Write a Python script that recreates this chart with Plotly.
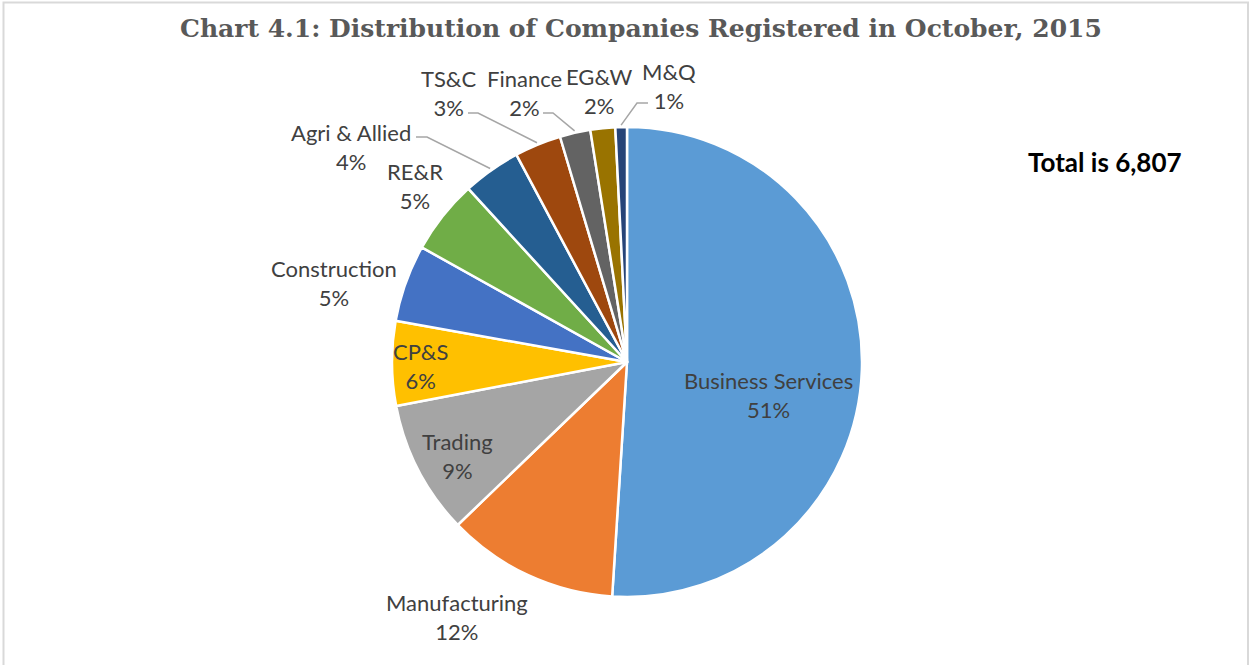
import math
import plotly.graph_objects as go

# ---- data ----
categories = ["Business Services", "Manufacturing", "Trading", "CP&S", "Construction",
              "RE&R", "Agri & Allied", "TS&C", "Finance", "EG&W", "M&Q"]
counts = [3472, 803, 626, 395, 361, 347, 272, 218, 143, 116, 54]
colors = ["#5B9BD5", "#ED7D31", "#A5A5A5", "#FFC000", "#4472C4", "#70AD47",
          "#255E91", "#9E480E", "#636363", "#997300", "#264478"]
total_label = "Total is 6,807"
title_text = "Chart 4.1: Distribution of Companies Registered in October, 2015"

# ---- layout geometry (pixels) ----
W, H = 1252, 665
CX, CY, R = 627, 362, 235

def px(x, y):
    return x / W, 1 - y / H

# label centre positions (pixels) and leader-line (anchor point, horizontal stub length)
label_pos = {
    "Business Services": (768, 395, None),
    "Manufacturing": (457, 617, None),
    "Trading": (457, 456, None),
    "CP&S": (420, 366, None),
    "Construction": (334, 283, None),
    "RE&R": (415, 186, None),
    "Agri & Allied": (351, 147, (416, 137, 11)),
    "TS&C": (449, 93, (468, 113, 10)),
    "Finance": (524, 93, (543, 113, 10)),
    "EG&W": (599, 91, None),
    "M&Q": (669, 86, (648, 103, -11)),
}

total = sum(counts)
fig = go.Figure()
fig.add_trace(go.Pie(
    labels=categories, values=counts, sort=False, direction="clockwise", rotation=0,
    marker=dict(colors=colors, line=dict(color="white", width=2.5)),
    textinfo="none", hoverinfo="label+value+percent", showlegend=False,
    domain=dict(x=[(CX - R) / W, (CX + R) / W], y=[1 - (CY + R) / H, 1 - (CY - R) / H]),
))

annotations = []
shapes = []
cum = 0
for cat, v in zip(categories, counts):
    pct = v / total
    mid = (cum + v / 2) / total * 2 * math.pi
    cum += v
    lx, ly, lead = label_pos[cat]
    x, y = px(lx, ly)
    annotations.append(dict(
        x=x, y=y, xref="paper", yref="paper", showarrow=False,
        text=f"{cat}<br>{round(pct * 100)}%",
        font=dict(family="Lato, Carlito, sans-serif", size=22, color="#404040"),
        align="center", xanchor="center", yanchor="middle",
    ))
    if lead is not None:
        ex = CX + (R + 2) * math.sin(mid)
        ey = CY - (R + 2) * math.cos(mid)
        sx, sy, stub = lead
        pts = [px(sx, sy), px(sx + stub, sy), px(ex, ey)]
        path = "M " + " L ".join(f"{a},{b}" for a, b in pts)
        shapes.append(dict(type="path", xref="paper", yref="paper", path=path,
                           line=dict(color="#A6A6A6", width=1.5)))

tx, ty = px(1105, 162)
annotations.append(dict(x=tx, y=ty, xref="paper", yref="paper", showarrow=False,
                        text=f"<b>{total_label}</b>",
                        font=dict(family="Lato, Carlito, sans-serif", size=26, color="#000000"),
                        xanchor="center", yanchor="middle"))
ttx, tty = px(641, 28)
annotations.append(dict(x=ttx, y=tty, xref="paper", yref="paper", showarrow=False,
                        text=f"<b>{title_text}</b>",
                        font=dict(family="DejaVu Serif, serif", size=25, color="#595959"),
                        xanchor="center", yanchor="middle"))

bx0, by0 = px(3.5, 2.5)
bx1, by1 = px(1248, 680)
shapes.append(dict(type="rect", xref="paper", yref="paper", x0=bx0, y0=by1, x1=bx1, y1=by0,
                   line=dict(color="#D9D9D9", width=2), fillcolor="rgba(0,0,0,0)"))

fig.update_layout(
    width=W, height=H, margin=dict(l=0, r=0, t=0, b=0),
    paper_bgcolor="white", plot_bgcolor="white",
    annotations=annotations, shapes=shapes,
)
fig.write_html("out.html", config={"displayModeBar": False},
               post_script="document.body.style.margin='0';")
